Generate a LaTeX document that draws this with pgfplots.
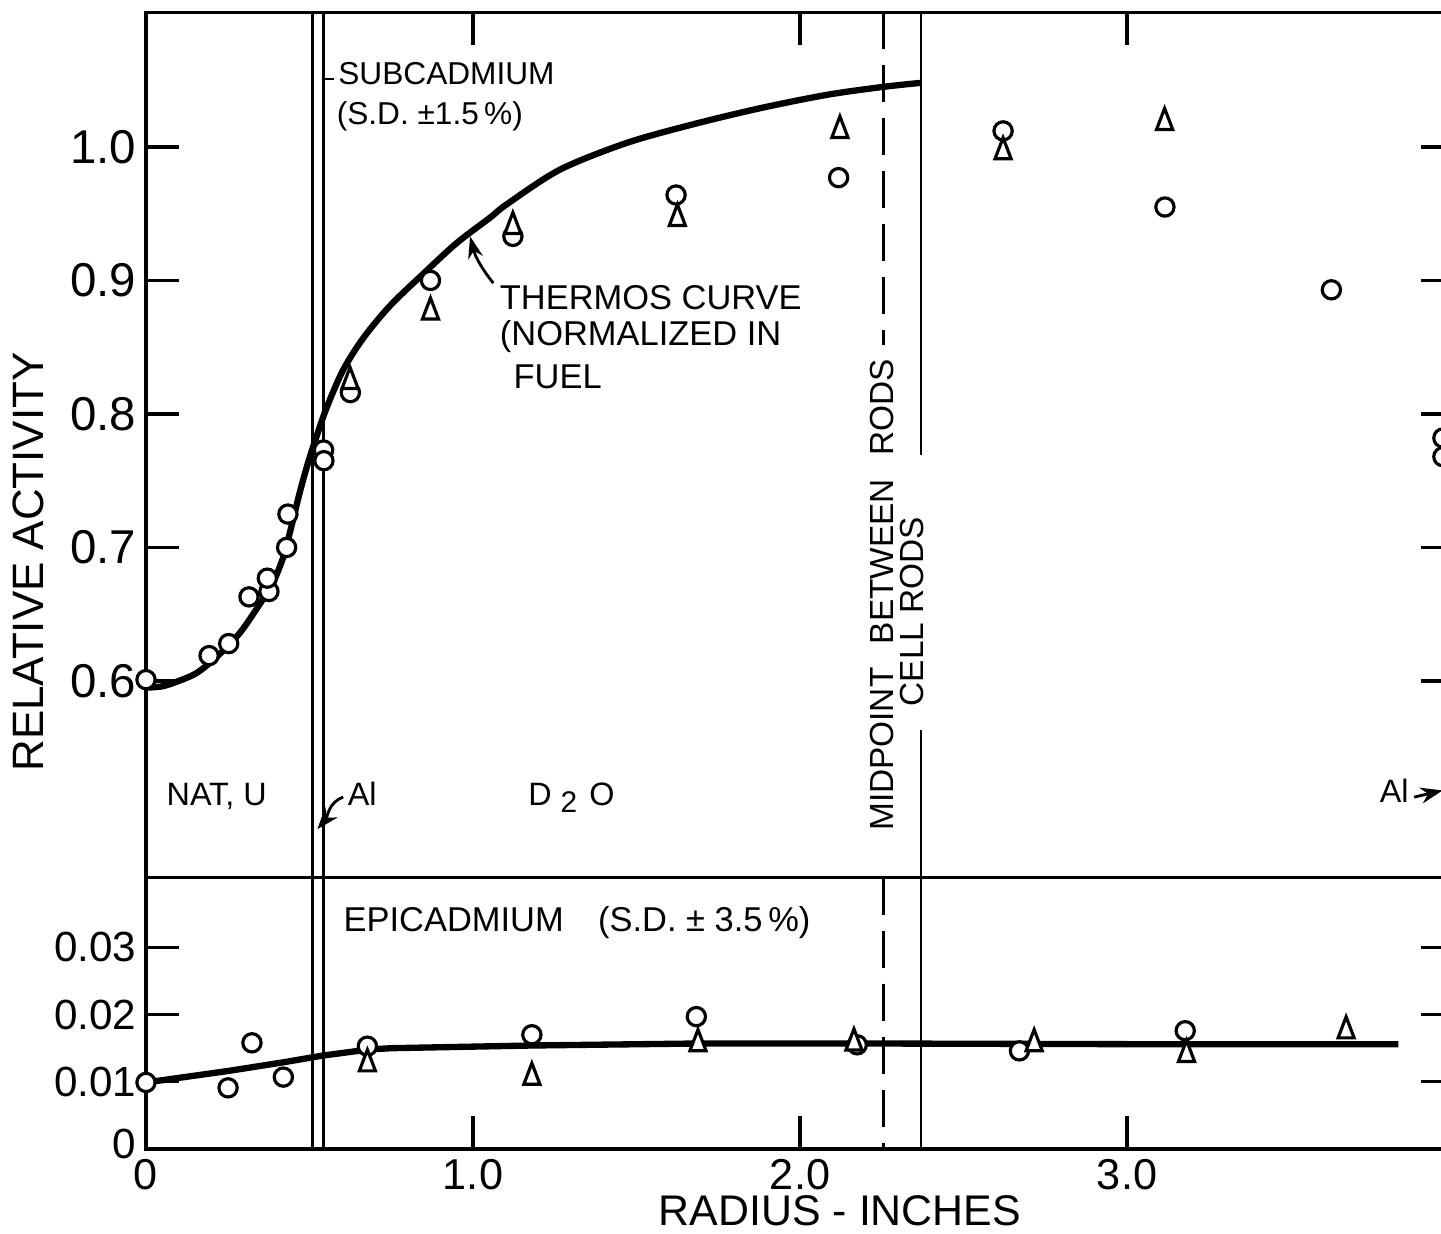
\documentclass[border=0pt]{standalone}
\usepackage{fontspec}
\setmainfont{Liberation Sans}
\usepackage{pgfplots}
\pgfplotsset{compat=1.18}
\usetikzlibrary{arrows.meta}
\newcommand\fs[1]{\fontsize{#1}{#1}\selectfont}

\pgfplotsset{
  myax/.style={
    scale only axis, width=130.8mm, xmin=0, xmax=4,
    clip=false, line width=1pt,
    major tick length=3.3mm, tick align=inside,
    every tick/.style={black,line width=0.9pt},
    scaled y ticks=false, scaled x ticks=false,
  },
  circ/.style={only marks, mark=*, mark size=2.6pt,
    mark options={fill=white, draw=black, line width=0.9pt}},
  tri/.style={only marks, mark=triangle*, mark size=4pt,
    mark options={fill=white, draw=black, line width=0.9pt, xscale=0.66, yshift=-1pt}},
  vline/.style={black, line width=0.8pt},
}

\begin{document}
\begin{tikzpicture}

%================ bottom panel (epicadmium) ================
\begin{axis}[myax, name=bot, at={(0,0)}, anchor=south west, height=27.15mm,
  ymin=0, ymax=0.0404,
  xtick={0,1,2,3}, xticklabels={0,1.0,2.0,3.0}, xtick pos=left,
  xticklabel style={font=\fs{12.3}, inner sep=0pt, yshift=-0.9mm},
  ytick={0,0.01,0.02,0.03}, yticklabels={\raisebox{1.1mm}{0},0.01,0.02,0.03},
  yticklabel style={font=\fs{12}, inner sep=0pt, xshift=-0.8mm},
  xlabel={RADIUS - INCHES},
  xlabel style={font=\fs{12.2}, inner sep=0pt, at={(axis description cs:0.5306,-0.226)}, anchor=center},
]
\addplot[vline] coordinates {(0.51,0) (0.51,0.0404)};
\addplot[vline] coordinates {(0.542,0) (0.542,0.0404)};
\addplot[vline, dash pattern=on 3.7mm off 1.6mm] coordinates {(2.255,0.0404) (2.255,0)};
\addplot[vline] coordinates {(2.37,0) (2.37,0.0404)};

\addplot[black, line width=1.8pt] coordinates {
(0,0.0099) (0.25,0.0116) (0.42,0.0129) (0.54,0.0139) (0.68,0.0148) (0.75,0.0150)
(1.18,0.0154) (1.69,0.0157) (2.2,0.0157) (3.0,0.0156) (3.83,0.0156)};

\addplot[circ] coordinates {
(0,0.0099) (0.251,0.0091) (0.324,0.0158) (0.420,0.0107) (0.677,0.0153)
(1.18,0.0170) (1.683,0.0197) (2.175,0.0155) (2.671,0.0146) (3.178,0.0176)};
\addplot[tri] coordinates {
(0.677,0.0132) (1.18,0.0112) (1.688,0.0162) (2.165,0.0163) (2.716,0.0162)
(3.182,0.0146) (3.670,0.0181)};

\node[anchor=base west, inner sep=0pt, font=\fs{9.8}] at (axis cs:0.599,0.0323)
  {EPICADMIUM\hspace{1em}(S.D. ± 3.5\,\%)};
\end{axis}

%================ top panel (subcadmium) ================
\begin{axis}[myax, name=top, at={(0,27.15mm)}, anchor=south west, height=86.5mm,
  ymin=0.4528, ymax=1.1007,
  xtick={1,2,3}, xtick pos=right, xticklabels={},
  ytick={0.6,0.7,0.8,0.9,1.0}, yticklabels={0.6,0.7,0.8,0.9,1.0},
  yticklabel style={font=\fs{13.5}, inner sep=0pt, xshift=-0.8mm},
  ylabel={RELATIVE ACTIVITY},
  ylabel style={font=\fs{12.5}, at={(axis description cs:-0.0902,0.3648)}, anchor=center},
]
\addplot[vline] coordinates {(0.51,0.4528) (0.51,1.1007)};
\addplot[vline] coordinates {(0.542,0.4528) (0.542,1.1007)};
\addplot[vline, dash pattern=on 3.7mm off 1.6mm] coordinates {(2.255,1.1007) (2.255,0.852)};
\addplot[vline] coordinates {(2.37,1.1007) (2.37,0.769)};
\addplot[vline] coordinates {(2.37,0.563) (2.37,0.4528)};

% THERMOS curve
\addplot[black, line width=1.8pt, smooth, tension=0.5] coordinates {
(0,0.595) (0.05,0.596) (0.10,0.600) (0.155,0.606) (0.216,0.618) (0.287,0.636)
(0.349,0.658) (0.389,0.674) (0.420,0.693) (0.445,0.716) (0.470,0.741) (0.495,0.763)
(0.520,0.782) (0.553,0.805) (0.603,0.833) (0.665,0.857) (0.746,0.881) (0.848,0.905)
(0.950,0.928) (1.052,0.947) (1.103,0.957) (1.266,0.983) (1.470,1.003) (1.674,1.017)
(1.878,1.029) (2.082,1.039) (2.255,1.045) (2.37,1.048)};

\addplot[circ] coordinates {
(0,0.601) (0.193,0.619) (0.253,0.628) (0.315,0.663) (0.376,0.667) (0.371,0.677)
(0.430,0.700) (0.434,0.725) (0.543,0.773) (0.544,0.765) (0.625,0.816) (0.870,0.900)
(1.122,0.933) (1.621,0.964) (2.118,0.977) (2.621,1.012) (3.116,0.955) (3.625,0.893)
(3.966,0.782) (3.966,0.768)};
\addplot[tri] coordinates {
(0.624,0.827) (0.870,0.879) (1.122,0.943) (1.625,0.949) (2.122,1.015) (2.621,0.999)
(3.115,1.021)};

% annotations
\draw[line width=0.7pt] (axis cs:0.545,1.051) -- (axis cs:0.576,1.051);
\node[anchor=base west, inner sep=0pt, font=\fs{9}] at (axis cs:0.583,1.0464) {SUBCADMIUM};
\node[anchor=base west, inner sep=0pt, font=\fs{9}] at (axis cs:0.578,1.0169) {(S.D. ±1.5\,\%)};

\node[anchor=base west, inner sep=0pt, font=\fs{9.8}] at (axis cs:1.077,0.8779) {THERMOS CURVE};
\node[anchor=base west, inner sep=0pt, font=\fs{9.8}] at (axis cs:1.077,0.8509) {(NORMALIZED IN};
\node[anchor=base west, inner sep=0pt, font=\fs{9.8}] at (axis cs:1.119,0.8187) {FUEL};
\draw[line width=0.8pt, -{Stealth[length=2.2mm,width=1.5mm]}]
  (axis cs:1.062,0.898) to[bend left=12] (axis cs:0.991,0.933);

\node[anchor=base west, inner sep=0pt, font=\fs{9.2}] at (axis cs:0.058,0.5071) {NAT, U};
\node[anchor=base west, inner sep=0pt, font=\fs{9.2}] at (axis cs:0.612,0.5071) {Al};
\draw[line width=0.8pt, -{Stealth[length=2.2mm,width=1.6mm]}]
  (axis cs:0.603,0.513) to[out=200, in=50] (axis cs:0.524,0.489);
\node[anchor=base west, inner sep=0pt, font=\fs{9.2}] at (axis cs:1.164,0.5071)
  {D\hspace{0.9mm}\raisebox{-0.7mm}{\fs{8.5}2}\hspace{1.2mm}O};

\node[rotate=90, anchor=center, inner sep=0pt, font=\fs{9.5}] at (axis cs:2.250,0.6644)
  {MIDPOINT\hspace{0.7em}BETWEEN\hspace{0.7em}RODS};
\node[rotate=90, anchor=center, inner sep=0pt, font=\fs{9.5}] at (axis cs:2.342,0.652)
  {CELL RODS};

\node[anchor=base west, inner sep=0pt, font=\fs{9.2}] at (axis cs:3.768,0.5086) {Al};
\draw[line width=0.8pt, -{Stealth[length=2.2mm,width=1.6mm]}]
  (axis cs:3.878,0.513) -- (axis cs:3.965,0.518);
\end{axis}

\pgfresetboundingbox
\path[use as bounding box] (-14.6mm,-8.4mm) rectangle (129.5mm,114.9mm);
\end{tikzpicture}
\end{document}
